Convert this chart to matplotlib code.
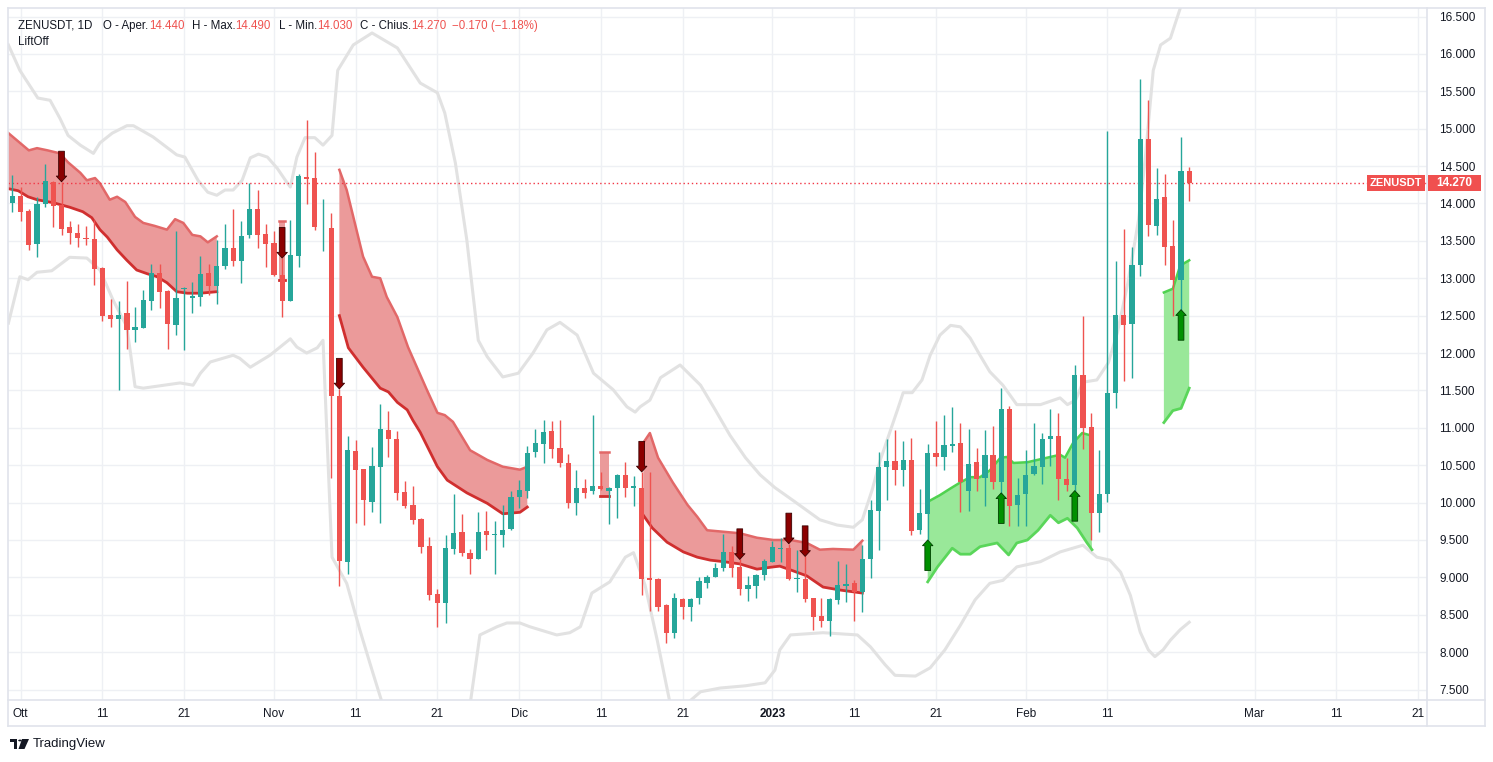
import matplotlib
matplotlib.use("Agg")
import matplotlib.pyplot as plt
import matplotlib.transforms as mtransforms
from matplotlib.lines import Line2D
from matplotlib.patches import Rectangle, Circle, Polygon
from matplotlib.ticker import FormatStrFormatter
import numpy as np
import pandas as pd

plt.rcParams['font.family'] = ['Liberation Sans', 'DejaVu Sans']

# Colors (TradingView light theme)
up_color = '#26a69a'
down_color = '#ef5350'
text_color = '#131722'
grid_color = '#eef0f4'
frame_color = '#e0e3eb'

# Day numbers count from 2022-10-01 (day 0); first candle is 2022-09-30
start_date = pd.Timestamp('2022-10-01')
first_day = -1

### OHLC DATA (ZENUSDT, 1D) ###
opens = [14.01, 14.10, 13.90, 13.46, 13.99, 14.29, 13.98, 13.68, 13.61, 13.54,
         13.52, 13.14, 12.51, 12.45, 12.54, 12.31, 12.34, 12.70, 13.07, 12.83,
         12.37, 12.85, 12.73, 12.75, 13.07, 12.90, 13.17, 13.41, 13.23, 13.58,
         13.93, 13.59, 13.47, 13.04, 12.70, 13.30, 14.35, 14.34, 13.68, 13.67,
         11.43, 9.21, 10.69, 10.45, 10.01, 10.47, 10.97, 10.85, 10.14, 9.97,
         9.78, 9.42, 8.78, 8.66, 9.38, 9.60, 9.33, 9.25, 9.62, 9.56,
         9.57, 9.65, 10.07, 10.16, 10.67, 10.79, 10.96, 10.73, 10.53, 10.00,
         10.20, 10.15, 10.22, 10.16, 10.20, 10.37, 10.20, 10.20, 8.99, 8.98,
         8.63, 8.25, 8.71, 8.61, 8.73, 8.93, 9.00, 9.12, 9.34, 9.14,
         8.85, 8.89, 9.03, 9.20, 9.38, 9.39, 8.98, 8.98, 8.72, 8.48,
         8.42, 8.70, 8.89, 8.92, 8.81, 9.25, 9.89, 10.47, 10.55, 10.44,
         10.57, 9.63, 9.85, 10.66, 10.61, 10.76, 10.80, 10.16, 10.54, 10.33,
         10.64, 10.28, 11.25, 9.97, 10.11, 10.38, 10.48, 10.85, 10.89, 10.32,
         10.23, 11.71, 11.01, 9.86, 10.12, 11.46, 12.51, 12.39, 13.18, 14.86,
         13.70, 14.08, 13.43, 12.98, 14.44]
highs = [14.38, 14.22, 13.93, 14.08, 14.53, 14.30, 14.29, 13.77, 13.73, 13.70,
         13.78, 13.15, 12.72, 12.70, 12.96, 12.61, 12.84, 13.19, 13.19, 12.84,
         13.63, 12.88, 12.95, 13.30, 13.19, 13.51, 13.73, 13.93, 13.77, 14.27,
         14.18, 13.73, 13.63, 13.27, 13.78, 14.39, 15.12, 14.69, 14.06, 13.87,
         11.52, 10.89, 10.84, 10.45, 10.74, 11.32, 11.22, 10.96, 10.29, 10.22,
         9.79, 9.54, 8.84, 9.57, 10.12, 9.85, 9.38, 9.87, 9.89, 9.75,
         9.97, 10.16, 10.30, 10.76, 10.98, 11.10, 11.09, 11.10, 10.65, 10.44,
         10.32, 11.17, 10.41, 10.21, 10.38, 10.54, 10.36, 10.41, 10.41, 8.99,
         8.64, 8.79, 8.72, 8.72, 9.00, 9.03, 9.19, 9.58, 9.42, 9.24,
         9.02, 9.04, 9.25, 9.48, 9.52, 9.45, 9.37, 9.28, 8.73, 8.73,
         8.73, 9.22, 9.18, 8.97, 9.43, 10.04, 10.67, 10.85, 10.97, 10.82,
         10.86, 10.18, 10.79, 11.09, 11.17, 11.28, 11.07, 10.99, 10.73, 10.97,
         11.02, 11.53, 11.29, 10.33, 10.70, 11.06, 10.93, 11.25, 11.20, 10.60,
         11.84, 12.49, 11.20, 10.70, 14.97, 13.23, 13.66, 13.42, 15.66, 15.38,
         14.48, 14.39, 13.78, 14.89, 14.49]
lows = [13.88, 13.76, 13.38, 13.29, 13.95, 13.68, 13.58, 13.46, 13.42, 13.45,
        12.91, 12.43, 12.35, 11.50, 12.06, 12.15, 12.33, 12.57, 12.60, 12.05,
        12.24, 12.04, 12.54, 12.63, 12.78, 12.66, 13.12, 13.17, 12.93, 13.54,
        13.40, 13.15, 13.03, 12.48, 12.69, 13.15, 13.99, 13.65, 13.36, 10.33,
        8.89, 9.04, 9.73, 9.70, 9.87, 9.73, 10.61, 10.04, 9.93, 9.71,
        9.33, 8.70, 8.34, 8.39, 9.31, 9.29, 9.04, 9.24, 9.37, 9.04,
        9.41, 9.64, 9.93, 10.06, 10.61, 10.53, 10.60, 10.48, 9.93, 9.83,
        10.06, 10.12, 10.17, 9.71, 9.79, 10.07, 9.95, 8.77, 8.55, 8.55,
        8.12, 8.19, 8.44, 8.42, 8.65, 8.86, 9.00, 9.09, 9.01, 8.77,
        8.69, 8.73, 8.96, 9.20, 9.21, 8.97, 8.81, 8.67, 8.29, 8.34,
        8.22, 8.64, 8.67, 8.41, 8.54, 8.99, 9.37, 10.03, 10.24, 10.22,
        9.57, 9.58, 9.50, 10.49, 10.43, 10.68, 9.88, 9.89, 10.15, 9.95,
        10.18, 10.13, 9.69, 9.69, 9.69, 10.37, 10.25, 10.49, 10.04, 10.15,
        10.16, 10.71, 9.50, 9.61, 10.01, 11.26, 11.62, 11.66, 13.03, 13.57,
        13.58, 13.18, 12.49, 12.58, 14.03]
closes = [14.10, 13.89, 13.44, 13.99, 14.30, 13.97, 13.66, 13.61, 13.54, 13.52,
          13.12, 12.49, 12.45, 12.51, 12.31, 12.35, 12.71, 13.07, 12.82, 12.39,
          12.74, 12.87, 12.76, 13.06, 12.90, 13.16, 13.41, 13.23, 13.57, 13.93,
          13.58, 13.46, 13.04, 12.70, 13.31, 14.37, 14.33, 13.68, 13.69, 11.43,
          9.22, 10.70, 10.44, 10.03, 10.49, 10.99, 10.85, 10.13, 9.96, 9.77,
          9.41, 8.76, 8.66, 9.39, 9.59, 9.33, 9.25, 9.60, 9.56, 9.58,
          9.64, 10.08, 10.17, 10.66, 10.80, 10.94, 10.72, 10.53, 10.00, 10.20,
          10.13, 10.22, 10.18, 10.20, 10.37, 10.20, 10.22, 8.98, 8.96, 8.61,
          8.25, 8.72, 8.61, 8.71, 8.95, 9.00, 9.12, 9.34, 9.13, 8.84,
          8.90, 9.03, 9.22, 9.41, 9.39, 8.98, 8.99, 8.71, 8.47, 8.41,
          8.71, 8.90, 8.91, 8.81, 9.25, 9.90, 10.47, 10.55, 10.44, 10.57,
          9.62, 9.86, 10.66, 10.61, 10.77, 10.78, 10.28, 10.52, 10.32, 10.64,
          10.28, 11.25, 9.96, 10.10, 10.37, 10.49, 10.85, 10.89, 10.31, 10.23,
          11.71, 11.00, 9.86, 10.12, 11.46, 12.51, 12.38, 13.18, 14.86, 13.71,
          14.06, 13.42, 12.97, 14.44, 14.27]

### ENVELOPE (grey lines), (day, price) ###
nan = float('nan')
grey_upper = [(-1.5, 16.12), (-0.1, 15.78), (2.1, 15.41), (3.6, 15.38), (4.8, 15.14),
              (5.8, 14.91), (7.3, 14.78), (8.9, 14.67), (9.7, 14.81), (11.2, 14.94),
              (13.0, 15.04), (13.8, 15.04), (16.2, 14.89), (19.1, 14.65), (20.1, 14.62),
              (21.7, 14.31), (22.9, 14.15), (24.0, 14.11), (25.0, 14.18), (26.0, 14.18),
              (27.1, 14.31), (28.1, 14.61), (29.1, 14.66), (30.2, 14.62), (31.4, 14.47),
              (32.4, 14.31), (33.0, 14.22), (33.8, 14.62), (34.8, 14.88), (36.0, 14.88),
              (37.0, 14.78), (38.1, 14.91), (38.8, 15.78), (40.7, 16.12), (43.0, 16.28),
              (46.1, 16.08), (48.9, 15.61), (51.0, 15.48), (51.9, 15.21), (53.2, 14.54),
              (54.6, 13.51), (56.0, 12.17), (57.1, 11.95), (59.0, 11.68), (60.9, 11.73),
              (62.7, 12.00), (64.4, 12.31), (66.0, 12.41), (68.1, 12.24), (70.1, 11.73),
              (72.5, 11.51), (74.2, 11.28), (75.2, 11.21), (75.8, 11.28), (77.0, 11.37),
              (78.3, 11.67), (80.7, 11.84), (83.2, 11.57), (85.0, 11.24), (86.8, 10.90),
              (88.7, 10.60), (90.5, 10.37), (92.3, 10.20), (94.5, 10.03), (97.8, 9.77),
              (99.9, 9.70), (101.9, 9.67), (103.0, 9.77), (104.2, 10.17), (105.2, 10.57),
              (107.3, 11.24), (108.0, 11.47), (109.1, 11.47), (110.3, 11.64), (111.3, 11.97),
              (112.5, 12.24), (113.8, 12.37), (115.0, 12.35), (116.2, 12.20), (117.4, 11.97),
              (118.6, 11.75), (120.2, 11.57), (121.9, 11.31), (124.8, 11.31), (127.2, 11.40),
              (128.1, 11.31), (129.1, 11.37), (130.0, 11.61), (131.7, 11.64), (133.1, 11.87),
              (134.2, 12.27), (135.5, 12.94), (136.8, 13.78), (137.6, 14.58), (138.6, 15.78),
              (139.5, 16.12), (140.7, 16.21), (141.9, 16.61), (143.0, 16.95)]
grey_lower = [(-1.5, 12.40), (-0.1, 13.02), (0.9, 12.98), (2.0, 13.08), (3.8, 13.10),
              (6.0, 13.28), (8.1, 13.27), (9.7, 13.11), (11.3, 12.71), (13.0, 12.35),
              (14.0, 11.55), (15.0, 11.53), (19.5, 11.60), (21.1, 11.57), (22.0, 11.73),
              (23.2, 11.88), (26.0, 11.97), (26.8, 11.93), (28.1, 11.81), (30.5, 11.97),
              (33.0, 12.19), (33.8, 12.08), (35.0, 12.00), (36.3, 12.07), (37.0, 12.17),
              (38.1, 9.27), (39.9, 8.92), (41.5, 8.30), (42.8, 7.83), (44.3, 7.30),
              (nan, nan),
              (55.0, 7.30), (56.2, 8.23), (58.3, 8.34), (59.5, 8.39), (61.1, 8.39),
              (62.3, 8.34), (65.6, 8.23), (67.2, 8.26), (68.5, 8.34), (69.9, 8.79),
              (72.1, 8.94), (74.0, 9.27), (75.0, 9.33), (76.4, 8.90), (77.9, 8.16),
              (79.5, 7.30),
              (nan, nan),
              (81.4, 7.30), (83.2, 7.47), (85.6, 7.52), (88.7, 7.55), (91.1, 7.59),
              (92.3, 7.76), (92.9, 8.03), (94.2, 8.23), (98.2, 8.26), (102.4, 8.23),
              (104.0, 8.07), (105.8, 7.83), (107.0, 7.69), (109.5, 7.68), (111.3, 7.79),
              (113.1, 8.03), (115.0, 8.36), (116.8, 8.70), (118.6, 8.92), (120.2, 8.96),
              (121.9, 9.14), (124.8, 9.21), (127.2, 9.34), (130.0, 9.43), (131.7, 9.27),
              (133.3, 9.23), (134.6, 9.07), (135.8, 8.76), (137.0, 8.27), (138.0, 8.03),
              (138.8, 7.94), (139.8, 8.03), (140.7, 8.16), (141.9, 8.30), (143.0, 8.40)]

### LIFTOFF BANDS, (day, price) for upper and lower edges ###
red_a_upper = [(-1.6, 14.95), (1.0, 14.71), (2.0, 14.74), (3.3, 14.71), (4.8, 14.67),
               (5.8, 14.55), (7.3, 14.41), (8.1, 14.31), (9.1, 14.34), (9.7, 14.27),
               (10.9, 14.05), (11.8, 14.09), (12.8, 14.02), (14.0, 13.82), (15.0, 13.74),
               (16.4, 13.70), (17.9, 13.65), (18.9, 13.79), (19.9, 13.74), (21.0, 13.58),
               (22.0, 13.56), (22.9, 13.48), (24.0, 13.56)]
red_a_lower = [(-1.6, 14.20), (-0.3, 14.17), (0.9, 14.09), (2.0, 14.05), (4.0, 14.01),
               (6.0, 13.95), (7.6, 13.89), (8.7, 13.81), (9.7, 13.65), (10.6, 13.55),
               (11.8, 13.38), (13.0, 13.24), (14.2, 13.11), (15.5, 13.06), (16.7, 13.02),
               (17.9, 12.94), (19.1, 12.82), (20.4, 12.80), (22.0, 12.80), (24.0, 12.82)]
red_b_upper = [(31.65, 13.76), (32.35, 13.76)]
red_b_lower = [(31.65, 12.98), (32.35, 12.98)]
red_c_upper = [(39.0, 14.45), (39.9, 14.18), (41.9, 13.29), (43.0, 13.02), (44.0, 13.00),
               (44.8, 12.75), (46.1, 12.48), (47.4, 12.08), (49.7, 11.51), (51.0, 11.20),
               (51.9, 11.17), (52.9, 11.08), (55.0, 10.70), (57.1, 10.57), (59.0, 10.48),
               (61.1, 10.44), (62.0, 10.48)]
red_c_lower = [(39.0, 12.50), (40.1, 12.07), (41.9, 11.81), (44.0, 11.53), (45.0, 11.48),
               (46.1, 11.34), (47.3, 11.24), (48.0, 11.10), (48.9, 10.94), (51.0, 10.48),
               (52.2, 10.30), (54.6, 10.13), (57.1, 9.99), (59.0, 9.85), (61.1, 9.87),
               (62.0, 9.94)]
red_e_upper = [(70.9, 10.68), (72.0, 10.68)]
red_e_lower = [(70.9, 10.09), (72.0, 10.09)]
red_d_upper = [(76.2, 10.80), (77.0, 10.93), (78.0, 10.60), (79.8, 10.27), (81.6, 9.97),
               (82.8, 9.81), (84.0, 9.63), (86.0, 9.61), (88.0, 9.59), (90.1, 9.53),
               (92.1, 9.50), (94.2, 9.50), (96.2, 9.46), (97.8, 9.37), (99.4, 9.38),
               (101.9, 9.37), (103.0, 9.49)]
red_d_lower = [(76.2, 9.83), (77.3, 9.66), (79.1, 9.47), (81.1, 9.34), (82.8, 9.27),
               (84.4, 9.23), (86.0, 9.21), (88.0, 9.18), (90.1, 9.11), (92.1, 9.14),
               (92.9, 9.15), (94.2, 9.10), (96.2, 9.02), (98.2, 8.87), (100.3, 8.83),
               (103.0, 8.79)]
green_a_upper = [(111.0, 10.01), (112.5, 10.10), (113.8, 10.19), (115.0, 10.27), (116.2, 10.34),
                 (117.4, 10.34), (118.6, 10.43), (119.9, 10.60), (120.7, 10.61), (121.5, 10.53),
                 (123.2, 10.54), (124.8, 10.58), (126.0, 10.61), (127.2, 10.64), (127.8, 10.60),
                 (128.8, 10.80), (129.9, 10.93), (130.9, 10.90)]
green_a_lower = [(111.0, 8.94), (112.2, 9.14), (114.0, 9.39), (115.0, 9.31), (116.2, 9.31),
                 (117.4, 9.41), (119.5, 9.46), (120.9, 9.30), (121.9, 9.46), (123.2, 9.50),
                 (124.5, 9.63), (126.0, 9.83), (127.0, 9.73), (128.1, 9.79), (129.3, 9.66),
                 (130.5, 9.46), (131.1, 9.37)]
green_b_upper = [(139.9, 12.81), (141.0, 12.86), (141.9, 13.17), (143.0, 13.24)]
green_b_lower = [(139.9, 11.07), (141.0, 11.23), (142.0, 11.26), (143.0, 11.53)]

# Signal arrows (days)
sell_days = [5, 32, 39, 76, 88, 94, 96]
buy_days = [111, 120, 129, 142]

# Axes ticks
price_ticks = [7.5, 8.0, 8.5, 9.0, 9.5, 10.0, 10.5, 11.0, 11.5, 12.0,
               12.5, 13.0, 13.5, 14.0, 14.5, 15.0, 15.5, 16.0, 16.5]
tick_dates = ['2022-10-01', '2022-10-11', '2022-10-21', '2022-11-01', '2022-11-11',
              '2022-11-21', '2022-12-01', '2022-12-11', '2022-12-21', '2023-01-01',
              '2023-01-11', '2023-01-21', '2023-02-01', '2023-02-11', '2023-03-01',
              '2023-03-11', '2023-03-21']
tick_labels = ['Ott', '11', '21', 'Nov', '11', '21', 'Dic', '11', '21', '2023',
               '11', '21', 'Feb', '11', 'Mar', '11', '21']
tick_days = [(pd.Timestamp(t) - start_date).days for t in tick_dates]

### FIGURE ###
W, H = 1493, 762
fig = plt.figure(figsize=(W / 100, H / 100), dpi=100)
fig.patch.set_facecolor('white')
ax = fig.add_axes([8 / W, 1 - 700 / H, (1427 - 8) / W, (700 - 8) / H])
ax.set_xlim(-1.55, 172.1)
ax.set_ylim(7.36, 16.614)
for s in ax.spines.values():
    s.set_visible(False)

ax.set_axisbelow(True)
ax.grid(True, color=grid_color, lw=1)
ax.set_yticks(price_ticks)
ax.yaxis.set_major_formatter(FormatStrFormatter('%.3f'))
ax.yaxis.tick_right()
ax.tick_params(axis='y', length=0, pad=9, labelsize=8.5, labelcolor=text_color)
ax.set_xticks(tick_days)
ax.set_xticklabels(tick_labels)
ax.tick_params(axis='x', length=0, pad=6, labelsize=8.5, labelcolor=text_color)
ax.get_xticklabels()[tick_labels.index('2023')].set_fontweight('bold')

# Envelope lines
gu = np.array(grey_upper)
gl = np.array(grey_lower)
ax.plot(gu[:, 0], gu[:, 1], color='#e2e2e2', lw=2.2, zorder=1)
ax.plot(gl[:, 0], gl[:, 1], color='#e2e2e2', lw=2.2, zorder=1)


def draw_band(upper, lower, fill_col, up_col, lo_col):
    up = np.array(upper)
    lo = np.array(lower)
    xs = np.concatenate([up[:, 0], lo[::-1, 0]])
    ys = np.concatenate([up[:, 1], lo[::-1, 1]])
    ax.fill(xs, ys, color=fill_col, lw=0, zorder=1.2)
    ax.plot(up[:, 0], up[:, 1], color=up_col, lw=1.8, zorder=1.4)
    ax.plot(lo[:, 0], lo[:, 1], color=lo_col, lw=2.0, zorder=1.4)


red_fill, red_up, red_lo = '#eb9a9a', '#e26868', '#d02f2f'
green_fill, green_up, green_lo = '#99e899', '#4fd24f', '#5ad65a'
draw_band(red_a_upper, red_a_lower, red_fill, red_up, red_lo)
draw_band(red_b_upper, red_b_lower, red_fill, red_up, red_lo)
draw_band(red_c_upper, red_c_lower, red_fill, red_up, red_lo)
draw_band(red_e_upper, red_e_lower, red_fill, red_up, red_lo)
draw_band(red_d_upper, red_d_lower, red_fill, red_up, red_lo)
draw_band(green_a_upper, green_a_lower, green_fill, green_up, green_lo)
draw_band(green_b_upper, green_b_lower, green_fill, green_up, green_lo)

# Candles
o = np.array(opens)
h = np.array(highs)
l = np.array(lows)
c = np.array(closes)
days = np.arange(first_day, first_day + len(c))
colors = np.where(c >= o, up_color, down_color)
ax.vlines(days, l, h, colors=colors, lw=1, zorder=3)
ax.bar(days, np.maximum(np.abs(c - o), 0.012), bottom=np.minimum(o, c),
       width=0.64, color=colors, lw=0, zorder=3)

# Last price line
ax.axhline(c[-1], color='#f23645', lw=1, ls=(0, (1, 2)), zorder=2)

# Signal arrows
arrow_style = 'simple,head_length=0.55,head_width=1.0,tail_width=0.55'
for d in sell_days:
    ax.annotate('', xy=(d, h[d - first_day]), xytext=(0, 22), textcoords='offset points',
                arrowprops=dict(arrowstyle=arrow_style, mutation_scale=7.5,
                                fc='#8b0000', ec='#3a0000', lw=0.6,
                                shrinkA=0, shrinkB=0), zorder=5)
for d in buy_days:
    ax.annotate('', xy=(d, l[d - first_day]), xytext=(0, -22), textcoords='offset points',
                arrowprops=dict(arrowstyle=arrow_style, mutation_scale=7.5,
                                fc='#009000', ec='#004000', lw=0.6,
                                shrinkA=0, shrinkB=0), zorder=5)

# Price labels at the right
blend = mtransforms.blended_transform_factory(fig.transFigure, ax.transData)
box_h = 16 / 74.78
fig.add_artist(Rectangle((1367 / W, c[-1] - box_h / 2), 58 / W, box_h, transform=blend,
                         facecolor='#f0504f', edgecolor='none', zorder=6))
fig.add_artist(Rectangle((1428 / W, c[-1] - box_h / 2), 53 / W, box_h, transform=blend,
                         facecolor='#f0504f', edgecolor='none', zorder=6))
fig.text(1396 / W, c[-1], 'ZENUSDT', transform=blend, ha='center', va='center',
         color='white', fontsize=8, fontweight='bold', zorder=7)
fig.text(1454.5 / W, c[-1], '%.3f' % c[-1], transform=blend, ha='center', va='center',
         color='white', fontsize=8.5, fontweight='bold', zorder=7)

# Frame
def px(x, y):
    return x / W, 1 - y / H

for (x0, y0, x1, y1) in [(8, 8, 1485, 8), (8, 726, 1485, 726), (8, 8, 8, 726),
                         (1485, 8, 1485, 726), (1427, 8, 1427, 726), (8, 700, 1485, 700)]:
    (a0, b0), (a1, b1) = px(x0, y0), px(x1, y1)
    fig.add_artist(Line2D([a0, a1], [b0, b1], color=frame_color, lw=1.2))

# Header legend
hdr_size = 8.3
red_txt = '#ef5350'
t = fig.text(18 / W, 1 - 26 / H, 'ZENUSDT, 1D', color=text_color, fontsize=hdr_size, va='center')
pieces = [('O - Aper.', text_color, 8), ('14.440', red_txt, 0),
          ('H - Max.', text_color, 5.5), ('14.490', red_txt, 0),
          ('L - Min.', text_color, 5.5), ('14.030', red_txt, 0),
          ('C - Chius.', text_color, 5.5), ('14.270', red_txt, 0),
          ('\u22120.170 (\u22121.18%)', red_txt, 4)]
for txt, col, gap in pieces:
    t = ax.annotate(txt, xy=(1, 0), xycoords=t, xytext=(gap, 0), textcoords='offset points',
                    va='bottom', ha='left', color=col, fontsize=hdr_size, annotation_clip=False)
fig.text(18 / W, 1 - 42 / H, 'LiftOff', color=text_color, fontsize=hdr_size, va='center')

# TradingView logo
fig.add_artist(Rectangle(px(10, 742), 7 / W, 3 / H, facecolor=text_color, edgecolor='none'))
fig.add_artist(Rectangle(px(13.5, 749), 3.5 / W, 10 / H, facecolor=text_color, edgecolor='none'))
fig.add_artist(Circle(px(20, 740.5), 1.8 / W, facecolor=text_color, edgecolor='none'))
fig.add_artist(Polygon([px(22, 739), px(29, 739), px(24.5, 749), px(18.5, 749)],
                       facecolor=text_color, edgecolor='none'))
fig.text(33 / W, 1 - 744 / H, 'TradingView', color=text_color, fontsize=9.5, va='center')

plt.savefig('out.png', dpi=100)
